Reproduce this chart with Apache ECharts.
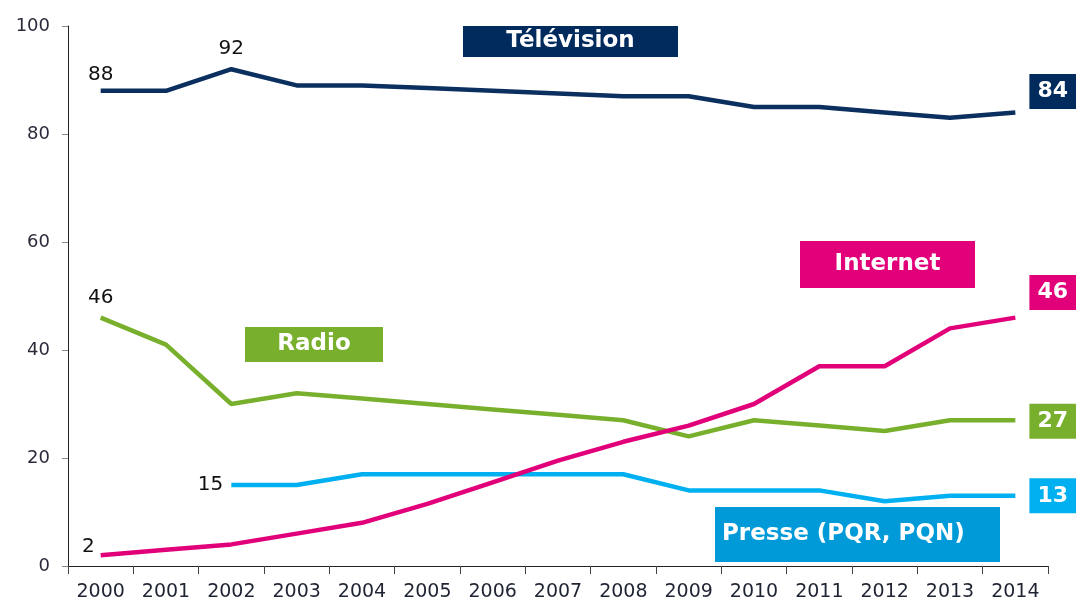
<!DOCTYPE html>
<html><head><meta charset="utf-8">
<script src="https://cdn.jsdelivr.net/npm/echarts@6/dist/echarts.min.js"></script>
<style>html,body{margin:0;padding:0;background:#fff}#c{width:1078px;height:604px}</style>
</head><body><div id="c"></div>
<script>
var years = ['2000','2001','2002','2003','2004','2005','2006','2007','2008','2009','2010','2011','2012','2013','2014'];
var television = [88,88,92,89,89,88.5,88,87.5,87,87,85,85,84,83,84];
var internet = [2,3,4,6,8,11.5,15.5,19.5,23,26,30,37,37,44,46];
var radio = [46,41,30,32,31,30,29,28,27,24,27,26,25,27,27];
var presse = [null,null,15,15,17,17,17,17,17,14,14,14,12,13,13];
var yTicks = [0,20,40,60,80,100];

var FONT = 'DejaVu Sans';
var C_TV = '#0b2f5f', C_TVBOX = '#002b5c';
var C_NET = '#e2007a';
var C_RAD = '#78b02e';
var C_PRE = '#00b0f0', C_PREBOX = '#009ad9';

// annotation placement: [position, distance, vertical shift]
var startLabels = {
  tv: {0:['top',6,0], 2:['top',10,0]},
  net: {0:['left',6,-8]},
  rad: {0:['top',10,0]},
  pre: {2:['left',8,0]}
};
var endOffsets = {tv: -21, net: -25, rad: 1, pre: 0};

function buildData(vals, starts, boxColor){
  var last = vals.length - 1;
  return vals.map(function(v, i){
    if (v === null) return null;
    var item = {value: v};
    if (starts[i]) {
      item.label = {show: true, position: starts[i][0], distance: starts[i][1],
        color: '#111', fontFamily: FONT, fontSize: 20, formatter: '{c}'};
    } else if (i === last) {
      item.label = {show: true, position: 'right', distance: 14,
        color: '#fff', fontFamily: FONT, fontWeight: 'bold', fontSize: 22,
        backgroundColor: boxColor, padding: [7,8,6,8], formatter: '{c}'};
    }
    return item;
  });
}

function mkSeries(name, vals, color, starts, boxColor, endOff){
  var last = vals.length - 1;
  return {
    name: name, type: 'line', data: buildData(vals, starts, boxColor),
    symbol: 'circle', symbolSize: 0.1, showSymbol: true,
    lineStyle: {color: color, width: 4.5},
    itemStyle: {color: color},
    label: {show: false},
    labelLayout: function(p){
      if (p.dataIndex === last) return {dy: endOff, hideOverlap: false};
      if (starts[p.dataIndex]) return {dy: starts[p.dataIndex][2], hideOverlap: false};
      return {hideOverlap: false};
    },
    connectNulls: false, animation: false, z: 3
  };
}

function box(x, y, w, h, color, text, align){
  return {
    type: 'group', left: x, top: y,
    children: [
      {type: 'rect', shape: {x:0, y:0, width: w, height: h}, style: {fill: color}},
      {type: 'text', x: align==='left'? 7 : w/2, y: h/2,
       style: {text: text, fill: '#fff', font: 'bold 23px "' + FONT + '"',
               textAlign: align==='left'?'left':'center', textVerticalAlign: 'middle'}}
    ]
  };
}

var chart = echarts.init(document.getElementById('c'));
chart.setOption({
  animation: false,
  grid: {left: 68, right: 30, top: 26, bottom: 38, containLabel: false},
  xAxis: {
    type: 'category', data: years, boundaryGap: true,
    axisLine: {lineStyle: {color: '#222', width: 1}},
    axisTick: {show: true, length: 8, lineStyle: {color: '#444'}},
    axisLabel: {color: '#1f2433', fontFamily: FONT, fontSize: 19, margin: 17, interval: 0}
  },
  yAxis: {
    type: 'value', min: yTicks[0], max: yTicks[yTicks.length-1], interval: 20,
    axisLine: {show: true, lineStyle: {color: '#222', width: 1}},
    axisTick: {show: true, length: 6, lineStyle: {color: '#888'}},
    splitLine: {show: false},
    axisLabel: {color: '#2b2b3b', fontFamily: FONT, fontSize: 18, margin: 18}
  },
  series: [
    mkSeries('Télévision', television, C_TV, startLabels.tv, C_TVBOX, endOffsets.tv),
    mkSeries('Radio', radio, C_RAD, startLabels.rad, C_RAD, endOffsets.rad),
    mkSeries('Presse (PQR, PQN)', presse, C_PRE, startLabels.pre, C_PRE, endOffsets.pre),
    mkSeries('Internet', internet, C_NET, startLabels.net, C_NET, endOffsets.net)
  ],
  graphic: [
    box(463, 26, 215, 31, C_TVBOX, 'Télévision'),
    box(800, 241, 175, 47, C_NET, 'Internet'),
    box(245, 327, 138, 35, C_RAD, 'Radio'),
    box(715, 507, 285, 55, C_PREBOX, 'Presse (PQR, PQN)', 'left')
  ]
});
</script></body></html>
